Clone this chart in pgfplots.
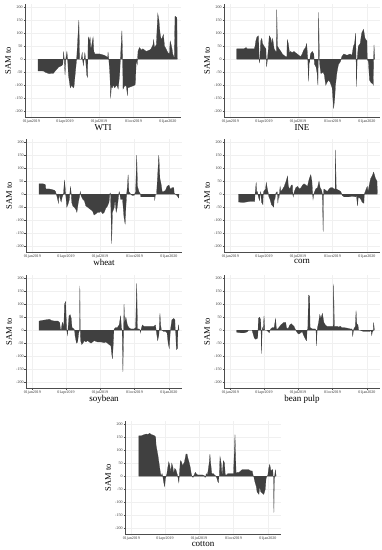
\documentclass[border=0pt]{standalone}
\usepackage{fontspec}
\setmainfont{Liberation Serif}
\usepackage{pgfplots}
\pgfplotsset{compat=1.18}
\definecolor{areafill}{RGB}{64,64,64}
\pgfplotsset{
 samstyle/.style={
  scale only axis, width=156pt, height=113pt,
  anchor=south west,
  xmin=-17, xmax=400, ymin=-222, ymax=212,
  axis x line*=bottom, axis y line*=left,
  xtick={0,90,181,273,365},
  xticklabels={01jan2019,01apr2019,01jul2019,01oct2019,01jan2020},
  ytick={-200,-150,...,200},
  /pgf/number format/assume math mode=true,
  grid=major, major grid style={gray!12, line width=0.3pt},
  tick label style={font=\fontsize{4}{4}\selectfont, text=black!80},
  tick align=outside, major tick length=1.5pt,
  tick style={black!70, line width=0.3pt},
  axis line style={black!70, line width=0.4pt},
  xticklabel style={inner sep=0.8pt},
  yticklabel style={inner sep=0.8pt},
  ylabel={SAM to},
  every axis y label/.style={at={(axis description cs:-0.108,0.5)}, rotate=90, anchor=center, font=\fontsize{8.5}{9}\selectfont},
  every axis x label/.style={at={(axis description cs:0.5,0)}, yshift=-7.5pt, anchor=north, inner sep=0pt, font=\fontsize{9}{9}\selectfont},
 },
 sam/.style={fill=areafill, draw=areafill, line width=0.2pt},
}
\begin{document}
\begin{tikzpicture}
\path[use as bounding box] (0,0) rectangle (382pt,550pt);
% WTI
\begin{axis}[samstyle, at={(25pt,433pt)}, xlabel={WTI}]
\addplot[sam] coordinates {(18,0) (18,-45) (28,-45) (33,-46) (37,-50) (46,-55) (50,-55) (59,-54) (64,-45) (73,-30) (81,-25) (84,-20) (85,0) (86,30) (88,0) (90,-60) (92,0) (95,30) (97,0) (99,-60) (104,-110) (108,-100) (112,-110) (114,-105) (117,-60) (119,-30) (121,0) (127,150) (129,0) (133,0) (136,25) (137,0) (139,-25) (141,0) (143,25) (145,0) (148,-60) (150,-70) (151,0) (152,85) (155,70) (157,85) (159,40) (161,50) (163,70) (165,85) (167,30) (170,20) (183,20) (195,15) (201,10) (204,5) (205,28) (207,0) (210,-60) (212,-150) (214,-100) (216,-110) (219,-100) (223,-110) (227,-100) (230,-105) (232,-115) (236,-60) (238,0) (242,110) (244,0) (245,-115) (250,-100) (254,-105) (257,-140) (258,-110) (267,-105) (276,-100) (278,-95) (280,-20) (281,0) (283,-20) (284,0) (285,30) (289,45) (294,35) (298,40) (307,30) (316,35) (320,40) (325,55) (327,75) (329,45) (334,55) (338,175) (341,150) (344,100) (347,75) (349,80) (353,95) (356,50) (360,40) (365,25) (369,20) (371,70) (373,60) (376,40) (378,20) (382,5) (384,165) (389,160) (390,0)} \closedcycle;
\end{axis}
% INE
\begin{axis}[samstyle, at={(224pt,433pt)}, xlabel={INE}]
\addplot[sam] coordinates {(17,0) (17,40) (37,40) (42,45) (45,40) (64,40) (66,50) (68,70) (71,85) (75,90) (76,60) (77,0) (78,-15) (79,0) (81,70) (84,80) (86,60) (90,50) (95,40) (96,0) (97,-30) (99,0) (101,30) (104,90) (108,80) (111,60) (113,80) (117,40) (121,30) (123,30) (124,190) (126,50) (130,40) (135,30) (139,20) (143,15) (148,10) (151,10) (152,75) (155,60) (158,25) (161,30) (165,25) (170,30) (174,25) (179,20) (183,15) (188,10) (192,20) (196,35) (201,45) (204,60) (205,40) (207,0) (209,-85) (211,0) (212,-10) (214,20) (219,30) (223,20) (224,0) (225,-20) (229,-30) (232,-55) (234,-100) (235,0) (236,180) (238,0) (239,-20) (242,-55) (248,-50) (251,-60) (255,-100) (258,-90) (263,-80) (267,-90) (272,-110) (276,-190) (279,-150) (281,-100) (285,-50) (289,-20) (294,-10) (296,0) (298,10) (303,20) (312,15) (320,20) (325,15) (329,50) (332,60) (335,100) (336,0) (337,-105) (339,0) (342,50) (347,60) (351,100) (356,115) (360,80) (365,70) (366,0) (369,-10) (372,-80) (376,-90) (381,-95) (382,-100) (383,0) (384,55) (386,0)} \closedcycle;
\end{axis}
% wheat
\begin{axis}[samstyle, at={(26pt,298pt)}, xlabel={wheat}]
\addplot[sam] coordinates {(18,0) (18,40) (28,40) (33,38) (35,35) (36,20) (45,20) (52,18) (59,15) (62,10) (64,0) (66,-10) (70,-35) (71,0) (73,-10) (75,-20) (77,-30) (80,-10) (83,0) (86,55) (88,20) (89,0) (92,-50) (95,-40) (99,-20) (100,0) (102,30) (104,0) (105,-30) (108,-45) (112,-50) (117,-60) (119,-70) (123,-30) (126,-10) (128,10) (130,-5) (135,-20) (139,-25) (143,-45) (148,-50) (152,-55) (157,-60) (161,-65) (165,-80) (170,-75) (174,-70) (179,-70) (183,-65) (188,-75) (192,-70) (196,-55) (201,-45) (205,-30) (207,0) (208,5) (209,0) (210,-60) (212,-190) (214,-70) (219,-50) (221,-20) (224,-70) (227,-50) (231,0) (232,10) (234,0) (236,-20) (241,-20) (245,-90) (248,-115) (250,-50) (252,0) (254,30) (256,75) (258,10) (263,0) (267,-5) (272,-5) (276,10) (279,150) (281,30) (285,10) (289,0) (290,-10) (327,-10) (327,-25) (329,0) (332,0) (338,150) (341,60) (344,40) (347,10) (351,10) (356,15) (360,30) (365,35) (369,20) (371,20) (373,25) (378,25) (379,5) (382,0) (387,-5) (391,-15) (392,0)} \closedcycle;
\end{axis}
% corn
\begin{axis}[samstyle, at={(224pt,298pt)}, xlabel={corn}]
\addplot[sam] coordinates {(22,0) (22,-30) (34,-32) (42,-30) (51,-28) (60,-28) (65,-28) (66,0) (69,45) (71,0) (72,10) (75,-10) (78,-25) (80,0) (81,10) (82,0) (83,-30) (87,-40) (88,0) (89,10) (94,20) (96,45) (99,20) (102,0) (103,-10) (106,-20) (110,-40) (113,-45) (116,-50) (118,0) (119,-20) (121,0) (122,5) (125,10) (126,0) (127,-35) (129,0) (130,-15) (131,0) (133,30) (135,10) (140,20) (144,30) (149,50) (153,70) (155,30) (159,20) (163,35) (166,35) (167,0) (168,-10) (169,0) (171,10) (175,25) (180,30) (184,20) (189,25) (193,35) (197,40) (202,35) (206,30) (211,60) (215,75) (218,50) (220,0) (221,-20) (223,0) (224,5) (228,20) (233,25) (237,50) (240,25) (244,15) (246,0) (248,-145) (249,0) (250,20) (255,15) (259,10) (264,20) (268,25) (273,25) (277,20) (280,20) (281,170) (283,20) (290,15) (295,10) (298,0) (299,-5) (304,-10) (308,-10) (317,-10) (326,-8) (335,-10) (337,-5) (340,-45) (342,-10) (346,-15) (349,-20) (352,-30) (357,-35) (358,0) (363,20) (366,30) (368,10) (372,40) (375,60) (379,70) (383,85) (388,60) (392,50) (393,0)} \closedcycle;
\end{axis}
% soybean
\begin{axis}[samstyle, at={(26pt,162pt)}, xlabel={soybean}]
\addplot[sam] coordinates {(18,0) (18,35) (28,38) (37,40) (46,42) (50,38) (59,35) (68,35) (73,30) (75,5) (77,0) (80,30) (82,25) (84,10) (86,100) (89,110) (90,60) (92,0) (94,-20) (95,0) (98,55) (101,60) (104,45) (106,10) (111,5) (113,0) (114,-20) (118,-50) (121,-45) (124,-10) (126,0) (127,170) (128,0) (129,-40) (132,-55) (135,-50) (139,-40) (143,-45) (148,-40) (152,-45) (157,-50) (161,-45) (165,-40) (174,-45) (183,-45) (192,-48) (196,-45) (201,-50) (205,-55) (210,-60) (212,-90) (214,-110) (216,-60) (218,0) (219,5) (223,10) (227,10) (232,20) (236,55) (238,10) (240,0) (242,-160) (244,0) (245,100) (247,30) (250,50) (254,20) (258,10) (263,5) (272,5) (276,10) (279,180) (281,5) (285,5) (288,0) (289,-10) (290,0) (294,20) (298,15) (307,15) (316,15) (325,15) (329,20) (331,0) (335,-40) (338,-20) (339,0) (341,65) (343,20) (345,0) (347,0) (351,-5) (356,-5) (360,-10) (363,-50) (366,-70) (368,-20) (369,0) (371,20) (373,40) (378,45) (381,40) (382,0) (383,0) (385,-75) (388,-70) (389,0) (391,20) (392,0)} \closedcycle;
\end{axis}
% bean pulp
\begin{axis}[samstyle, at={(224pt,162pt)}, xlabel={bean pulp}]
\addplot[sam] coordinates {(17,0) (17,-8) (28,-10) (37,-10) (42,-8) (46,-5) (48,0) (58,0) (59,-5) (64,-30) (68,-35) (73,-30) (74,0) (75,45) (78,50) (81,40) (82,0) (83,-90) (85,0) (86,10) (88,0) (90,55) (92,0) (97,0) (101,-5) (104,-10) (106,0) (108,5) (112,10) (117,10) (121,45) (123,5) (127,5) (135,20) (139,25) (143,30) (148,30) (150,10) (154,5) (159,20) (163,25) (166,20) (170,15) (173,5) (175,0) (179,-10) (183,-15) (188,-10) (192,-5) (196,-20) (201,-35) (204,-40) (205,0) (207,5) (209,135) (212,130) (213,10) (219,5) (223,5) (227,5) (229,0) (230,-60) (232,0) (233,10) (236,30) (239,60) (242,45) (246,65) (250,30) (254,20) (258,15) (272,15) (275,15) (276,178) (278,15) (285,15) (289,12) (294,15) (298,10) (303,10) (312,8) (320,5) (325,5) (326,0) (327,-25) (329,0) (330,5) (334,15) (336,75) (338,25) (341,20) (343,0) (347,0) (356,-5) (365,-5) (373,-5) (376,0) (378,-20) (380,0) (381,-5) (382,0) (383,30) (385,0)} \closedcycle;
\end{axis}
% cotton
\begin{axis}[samstyle, at={(125pt,16pt)}, xlabel={cotton}]
\addplot[sam] coordinates {(20,0) (20,155) (27,155) (31,158) (35,160) (40,162) (44,160) (49,165) (53,160) (58,158) (62,155) (65,150) (66,120) (71,80) (75,40) (78,10) (80,0) (82,10) (84,0) (86,-20) (89,-40) (91,-10) (93,0) (95,10) (97,30) (100,55) (103,40) (105,15) (108,50) (111,35) (113,10) (116,30) (119,25) (121,15) (124,0) (127,-25) (128,0) (131,60) (134,55) (137,40) (142,55) (146,85) (149,85) (151,70) (155,50) (158,30) (160,10) (162,0) (165,-5) (166,0) (168,5) (171,15) (173,10) (177,5) (181,5) (190,5) (195,2) (196,0) (197,-5) (199,0) (200,10) (203,5) (205,20) (208,50) (210,85) (212,50) (215,10) (219,10) (222,5) (226,0) (228,-5) (231,-20) (233,-25) (234,0) (235,0) (237,75) (240,50) (242,10) (243,10) (246,60) (249,50) (251,5) (255,5) (258,10) (261,10) (266,10) (270,10) (273,10) (277,160) (280,10) (283,15) (288,15) (296,25) (301,25) (305,25) (310,25) (314,25) (319,20) (323,20) (326,0) (327,0) (330,-20) (334,-40) (336,-60) (341,-70) (343,-40) (346,-60) (350,-65) (354,-70) (358,-50) (360,-10) (362,0) (363,0) (365,5) (367,30) (370,45) (373,20) (376,25) (378,25) (379,0) (380,0) (381,-140) (382,-20) (383,0) (385,25) (387,0)} \closedcycle;
\end{axis}
\end{tikzpicture}
\end{document}
